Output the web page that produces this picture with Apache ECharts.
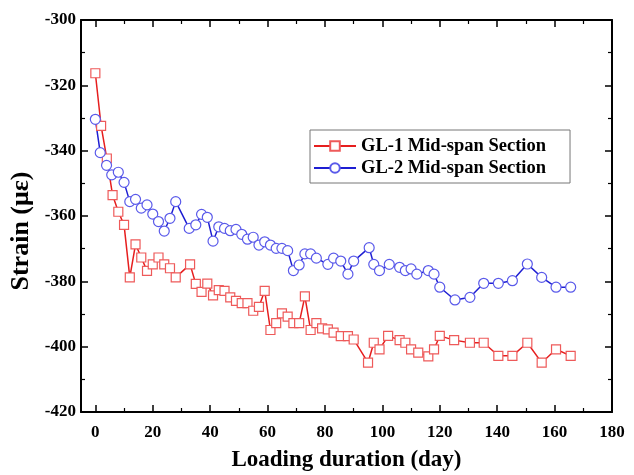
<!DOCTYPE html>
<html>
<head>
<meta charset="utf-8">
<script src="https://cdn.jsdelivr.net/npm/echarts@6/dist/echarts.min.js"></script>
<style>
html,body{margin:0;padding:0;background:#fff;}
#c{width:634px;height:475px;}
</style>
</head>
<body>
<div id="c"></div>
<script>
// ---- data ----
var gl1Days = [0,2,4,6,8,10,12,14,16,18,20,22,24,26,28,33,35,37,39,41,43,45,47,49,51,53,55,57,59,61,63,65,67,69,71,73,75,77,79,81,83,85.5,88,90,95,97,99,102,106,108,110,112.5,116,118,120,125,130.5,135.3,140.4,145.3,150.5,155.5,160.5,165.6];
var gl1Strain = [-316.3,-332.4,-342.4,-353.6,-358.7,-362.7,-378.8,-368.7,-372.7,-376.8,-374.8,-372.7,-374.8,-376,-378.8,-374.8,-380.8,-383.2,-380.7,-384.3,-382.7,-382.9,-384.9,-386,-386.7,-386.7,-389,-387.8,-382.9,-394.9,-392.8,-389.8,-390.8,-392.8,-392.8,-384.6,-394.9,-392.8,-394.4,-394.7,-395.7,-396.8,-396.8,-397.8,-404.9,-398.8,-400.8,-396.7,-398,-398.8,-400.8,-401.8,-403,-400.8,-396.7,-398,-398.8,-398.8,-402.8,-402.8,-398.8,-404.9,-400.8,-402.8];
var gl2Days = [0,1.7,3.9,5.7,8,10,12,14,16,18,20,22,24,26,28,32.7,35,37,39,41,43,45,47,49,51,53,55,57,59,61,63,65,67,69,71,73,75,77,81,83,85.5,88,90,95.4,97,99,102.4,106,108,110,112,116,118,120,125.3,130.5,135.3,140.4,145.3,150.5,155.5,160.5,165.6];
var gl2Strain = [-330.4,-340.6,-344.5,-347.4,-346.6,-349.7,-355.6,-354.9,-357.6,-356.6,-359.4,-361.7,-364.6,-360.7,-355.6,-363.8,-362.7,-359.5,-360.4,-367.7,-363.3,-363.8,-364.5,-364.1,-365.6,-367.1,-366.5,-368.9,-367.9,-368.9,-369.9,-369.9,-370.6,-376.7,-375,-371.6,-371.6,-372.9,-374.8,-372.9,-373.8,-377.8,-373.8,-369.7,-374.8,-376.7,-374.8,-375.7,-376.7,-376.2,-377.8,-376.7,-377.8,-381.8,-385.7,-384.9,-380.6,-380.6,-379.8,-374.7,-378.8,-381.8,-381.8];
var xTicks = [0,20,40,60,80,100,120,140,160,180];
var xMinorTicks = [10,30,50,70,90,110,130,150,170];
var seriesNames = ['GL-1 Mid-span Section','GL-2 Mid-span Section'];

function pairs(xs, ys){ return xs.map(function(x,i){ return [x, ys[i]]; }); }

var FONT = '"Liberation Serif","Times New Roman",serif';
var black = '#000';

function xAx(opts){
  var base = {
    type:'value', min:-5, max:180, gridIndex:0,
    splitLine:{show:false},
    axisLine:{show:true, onZero:false, lineStyle:{color:black, width:2}},
    axisTick:{show:true, inside:true, length:7, lineStyle:{color:black, width:1.5}},
    axisLabel:{show:false}
  };
  return Object.assign(base, opts);
}

var option = {
  backgroundColor:'#fff',
  animation:false,
  grid:{left:81, right:22, top:20, bottom:63, containLabel:false, outerBoundsMode:'none'},
  legend:{
    orient:'vertical', left:310, top:130,
    backgroundColor:'#fff', borderColor:'#777', borderWidth:1,
    padding:[6,24,5,3], itemGap:2, itemWidth:42, itemHeight:12,
    textStyle:{fontFamily:FONT, fontWeight:'bold', fontSize:18.5, color:black, lineHeight:20},
    data:seriesNames
  },
  xAxis:[
    xAx({position:'bottom', name:'Loading duration (day)', nameLocation:'middle', nameGap:37,
      nameTextStyle:{fontFamily:FONT, fontWeight:'bold', fontSize:23, color:black},
      axisTick:{show:true, inside:true, length:7, customValues:xTicks, lineStyle:{color:black, width:1.5}},
      axisLabel:{show:true, customValues:xTicks, margin:12, fontFamily:FONT, fontWeight:'bold', fontSize:17, color:black}}),
    xAx({position:'bottom', axisLine:{show:false},
      axisTick:{show:true, inside:true, length:4, customValues:xMinorTicks, lineStyle:{color:black, width:1.2}}}),
    xAx({position:'top',
      axisTick:{show:true, inside:true, length:7, customValues:xTicks, lineStyle:{color:black, width:1.5}}}),
    xAx({position:'top', axisLine:{show:false},
      axisTick:{show:true, inside:true, length:4, customValues:xMinorTicks, lineStyle:{color:black, width:1.2}}})
  ],
  yAxis:[
    {type:'value', min:-420, max:-300, interval:20, position:'left',
      name:'Strain (\u03bc\u03b5)', nameLocation:'middle', nameGap:45, nameRotate:90,
      nameTextStyle:{fontFamily:FONT, fontWeight:'bold', fontSize:26, color:black, padding:[0,30,0,0]},
      splitLine:{show:false},
      axisLine:{show:true, onZero:false, lineStyle:{color:black, width:2}},
      axisTick:{show:true, inside:true, length:7, lineStyle:{color:black, width:1.5}},
      minorTick:{show:true, splitNumber:2, length:4, lineStyle:{color:black, width:1.2}},
      axisLabel:{margin:5, fontFamily:FONT, fontWeight:'bold', fontSize:17, color:black}},
    {type:'value', min:-420, max:-300, interval:20, position:'right',
      splitLine:{show:false},
      axisLine:{show:true, onZero:false, lineStyle:{color:black, width:2}},
      axisTick:{show:true, inside:true, length:7, lineStyle:{color:black, width:1.5}},
      minorTick:{show:true, splitNumber:2, length:4, lineStyle:{color:black, width:1.2}},
      axisLabel:{show:false}}
  ],
  series:[
    {name:seriesNames[0], type:'line', xAxisIndex:0, yAxisIndex:0,
      data:pairs(gl1Days, gl1Strain),
      symbol:'rect', symbolSize:9, showAllSymbol:true,
      lineStyle:{color:'#e61e1e', width:1.5},
      itemStyle:{color:'#fff', borderColor:'#ee5a5a', borderWidth:1.2},
      emphasis:{disabled:true}},
    {name:seriesNames[1], type:'line', xAxisIndex:0, yAxisIndex:0,
      data:pairs(gl2Days, gl2Strain),
      symbol:'circle', symbolSize:10, showAllSymbol:true,
      lineStyle:{color:'#1e1ed2', width:1.5},
      itemStyle:{color:'#fff', borderColor:'#5a5aea', borderWidth:1.2},
      emphasis:{disabled:true}}
  ]
};
var chart = echarts.init(document.getElementById('c'), null, {renderer:'canvas'});
chart.setOption(option);
</script>
</body>
</html>
